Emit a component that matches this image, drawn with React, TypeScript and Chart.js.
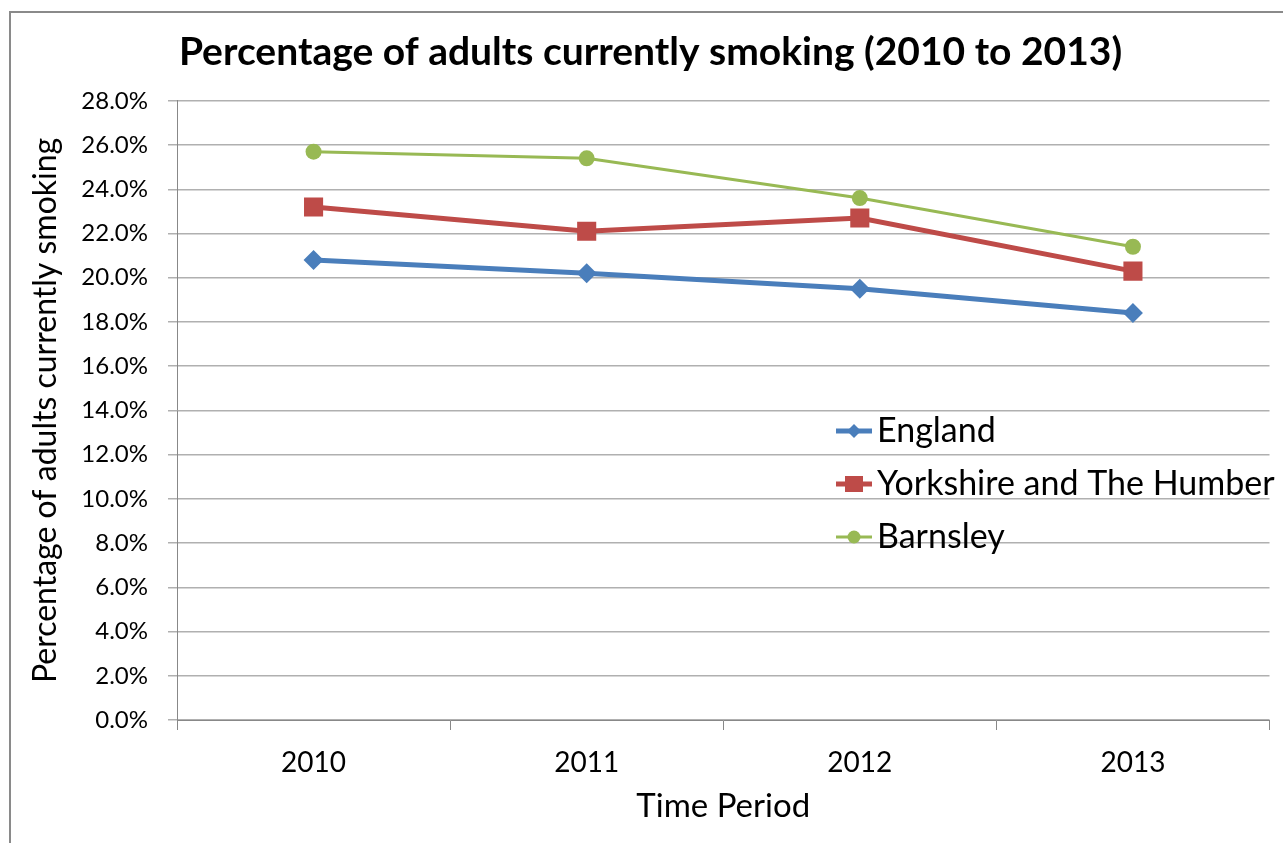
import React, { useEffect, useRef } from "react";
import { Chart, registerables } from "chart.js";

Chart.register(...registerables);

const categories = ["2010", "2011", "2012", "2013"];
const englandValues = [20.8, 20.2, 19.5, 18.4];
const yorkshireValues = [23.2, 22.1, 22.7, 20.3];
const barnsleyValues = [25.7, 25.4, 23.6, 21.4];
const seriesNames = ["England", "Yorkshire and The Humber", "Barnsley"];
const chartTitle = "Percentage of adults currently smoking (2010 to 2013)";
const yAxisTitle = "Percentage of adults currently smoking";
const xAxisTitle = "Time Period";

const FONT = "Lato, 'Open Sans', sans-serif";
const BLUE = "#4a7ebb";
const RED = "#be4b48";
const GREEN = "#98b954";

const legendPlugin = {
  id: "customLegend",
  afterDraw(chart: any) {
    const ctx = chart.ctx;
    const x0 = 836;
    const ys = [431, 484, 537];
    ctx.save();
    chart.data.datasets.forEach((ds: any, i: number) => {
      const y = ys[i];
      ctx.strokeStyle = ds.borderColor;
      ctx.lineWidth = ds.borderWidth;
      ctx.beginPath();
      ctx.moveTo(x0, y);
      ctx.lineTo(x0 + 36, y);
      ctx.stroke();
      ctx.fillStyle = ds.borderColor;
      ctx.beginPath();
      if (ds.pointStyle === "rectRot") {
        ctx.moveTo(x0 + 18, y - 7);
        ctx.lineTo(x0 + 25, y);
        ctx.lineTo(x0 + 18, y + 7);
        ctx.lineTo(x0 + 11, y);
        ctx.closePath();
      } else if (ds.pointStyle === "rect") {
        ctx.rect(x0 + 9, y - 8, 18, 16);
      } else {
        ctx.arc(x0 + 18, y, 6.5, 0, Math.PI * 2);
      }
      ctx.fill();
      ctx.fillStyle = "#000";
      ctx.font = `34px ${FONT}`;
      ctx.textBaseline = "middle";
      ctx.textAlign = "left";
      ctx.fillText(ds.label, x0 + 41, y);
    });
    ctx.restore();
  },
};

export default function App() {
  const ref = useRef<HTMLCanvasElement | null>(null);

  useEffect(() => {
    if (!ref.current) return;
    const chart = new Chart(ref.current, {
      type: "line",
      data: {
        labels: categories,
        datasets: [
          {
            label: seriesNames[0],
            data: englandValues,
            borderColor: BLUE,
            backgroundColor: BLUE,
            borderWidth: 5,
            pointStyle: "rectRot",
            pointRadius: 10,
            pointBorderWidth: 0,
          },
          {
            label: seriesNames[1],
            data: yorkshireValues,
            borderColor: RED,
            backgroundColor: RED,
            borderWidth: 5,
            pointStyle: "rect",
            pointRadius: 13.5,
            pointBorderWidth: 0,
          },
          {
            label: seriesNames[2],
            data: barnsleyValues,
            borderColor: GREEN,
            backgroundColor: GREEN,
            borderWidth: 3,
            pointStyle: "circle",
            pointRadius: 8,
            pointBorderWidth: 0,
          },
        ],
      },
      options: {
        responsive: false,
        animation: false,
        layout: { padding: { top: 0, right: 4, bottom: 0, left: 22 } },
        plugins: {
          legend: { display: false },
          tooltip: { enabled: false },
          title: {
            display: true,
            text: chartTitle,
            color: "#000",
            font: { family: FONT, size: 39, weight: "bold" },
            padding: { top: 29, bottom: 25 },
          },
        },
        scales: {
          x: {
            offset: true,
            afterFit: (s: any) => {
              s.height = 123;
            },
            grid: {
              offset: true,
              drawOnChartArea: false,
              drawTicks: true,
              tickLength: 10,
              color: "#888",
            },
            border: { display: true, color: "#888", width: 1 },
            ticks: {
              color: "#000",
              font: { family: FONT, size: 28 },
              padding: 16,
            },
            title: {
              display: true,
              text: xAxisTitle,
              color: "#000",
              font: { family: FONT, size: 33 },
              padding: { top: 0, bottom: 17 },
            },
          },
          y: {
            min: 0,
            max: 28,
            afterFit: (s: any) => {
              s.width = 155;
            },
            grid: {
              color: "#b0b0b0",
              tickLength: 9,
              lineWidth: 1.5,
            },
            border: { display: true, color: "#888", width: 1 },
            ticks: {
              stepSize: 2,
              color: "#000",
              font: { family: FONT, size: 24 },
              padding: 20,
              callback: (v: any) => Number(v).toFixed(1) + "%",
            },
            title: {
              display: true,
              text: yAxisTitle,
              color: "#000",
              font: { family: FONT, size: 32 },
              padding: { top: 4, bottom: 0 },
            },
          },
        },
      },
      plugins: [legendPlugin],
    });
    return () => chart.destroy();
  }, []);

  return (
    <div style={{ position: "fixed", left: 0, top: 0, width: 1283, height: 843, background: "#fff" }}>
      <canvas ref={ref} width={1283} height={843} style={{ position: "absolute", left: 0, top: 0 }} />
      <div
        style={{
          position: "absolute",
          left: 9,
          top: 11,
          width: 1290,
          height: 850,
          borderLeft: "2px solid #8a8a8a",
          borderTop: "2px solid #8a8a8a",
          pointerEvents: "none",
        }}
      />
    </div>
  );
}
